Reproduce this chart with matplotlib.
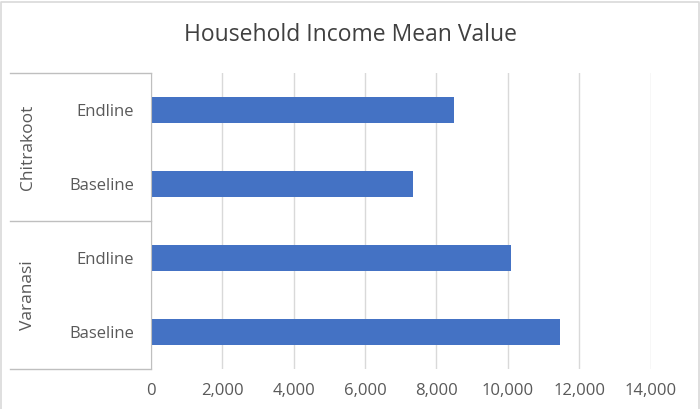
import matplotlib.pyplot as plt
import matplotlib.transforms as transforms

plt.rcParams['font.family'] = ['Open Sans', 'DejaVu Sans']

# data, listed bottom to top like Excel does
groups = ['Varanasi', 'Varanasi', 'Chitrakoot', 'Chitrakoot']
rounds = ['Baseline', 'Endline', 'Baseline', 'Endline']
income = [11450, 10100, 7350, 8500]
x_ticks = [0, 2000, 4000, 6000, 8000, 10000, 12000, 14000]

bar_color = '#4472C4'
text_color = '#595959'
line_color = '#D9D9D9'

fig = plt.figure(figsize=(7, 4.09), dpi=100)
ax = fig.add_axes([0.2153, 0.0978, 0.7143, 0.7237])

ypos = list(range(len(income)))
ax.barh(ypos, income, height=0.36, color=bar_color, zorder=3)

ax.set_xlim(0, 14000)
ax.set_ylim(-0.5, len(income) - 0.5)
ax.set_xticks(x_ticks)
ax.set_xticklabels(['{:,}'.format(v) for v in x_ticks])
ax.set_yticks(ypos)
ax.set_yticklabels(rounds)
ax.tick_params(axis='y', length=0, pad=12, labelsize=12, labelcolor=text_color)
ax.tick_params(axis='x', length=0, pad=10, labelsize=12, labelcolor=text_color)
ax.grid(axis='x', color=line_color, lw=1, zorder=0)

for s in ['top', 'right', 'bottom']:
    ax.spines[s].set_visible(False)
ax.spines['left'].set_color('#BFBFBF')
ax.spines['left'].set_zorder(4)

# group boxes on the category axis
trans = transforms.blended_transform_factory(ax.transAxes, ax.transData)
box_left = -0.281
names = []
for g in groups:
    if g not in names:
        names.append(g)
edges = [-0.5]
for name in names:
    idx = [i for i, g in enumerate(groups) if g == name]
    edges.append(max(idx) + 0.5)
    ax.text(-0.246, (min(idx) + max(idx)) / 2, name, transform=trans, rotation=90,
            ha='center', va='center', fontsize=12.5, color=text_color)
for e in edges:
    ax.plot([box_left, 0], [e, e], transform=trans, color='#BFBFBF', lw=1, clip_on=False)

fig.text(0.5, 0.915, 'Household Income Mean Value', ha='center', va='center',
         fontsize=16.5, color='#404040')

# chart border (left, top, right)
fig.add_artist(plt.Line2D([0.002, 0.002, 0.998, 0.998], [0.0, 0.996, 0.996, 0.0],
                          transform=fig.transFigure, color='#D9D9D9', lw=1.2))

fig.savefig('out.png', dpi=100)
